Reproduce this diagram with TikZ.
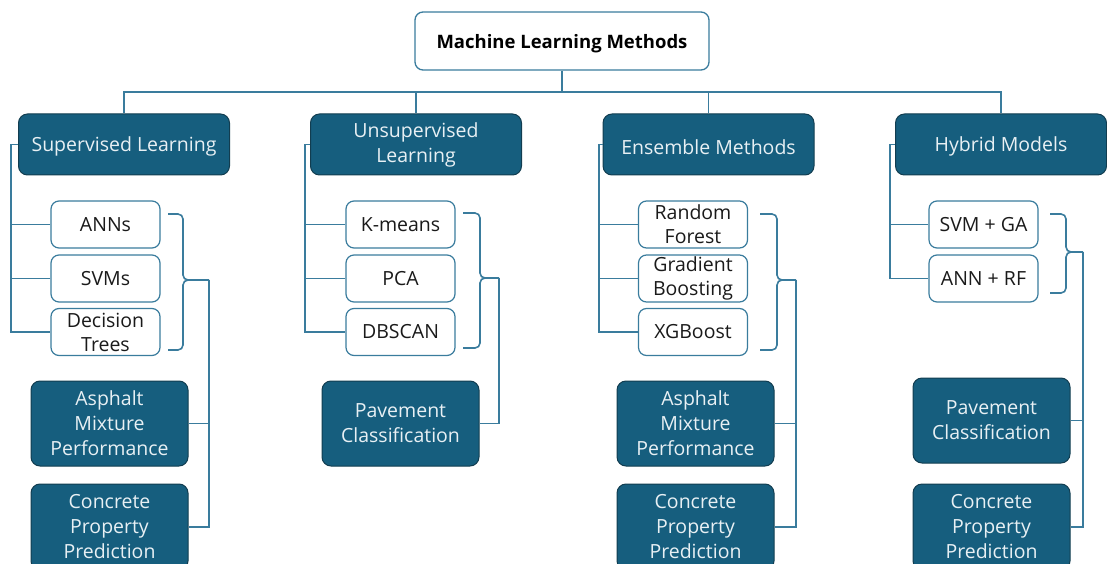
\documentclass[tikz,border=0pt]{standalone}
\usepackage{fontspec}
\setmainfont{Open Sans}
\definecolor{dark}{HTML}{165E7E}
\definecolor{darkb}{HTML}{123D50}
\definecolor{ln}{HTML}{3A7C9D}
\definecolor{lighttext}{HTML}{E8F0F4}
\definecolor{txt}{HTML}{1A1A1A}
\begin{document}
\begin{tikzpicture}[x=1pt,y=-1pt,
  cat/.style={draw=darkb, fill=dark, line width=1pt, rounded corners=9pt, text=lighttext,
    font=\fontsize{19.5}{25}\selectfont, align=center, inner sep=0pt,
    execute at begin node={\rule{0pt}{19.5pt}}},
  catbox/.style={cat, minimum width=211pt, minimum height=61pt},
  appbox/.style={cat, minimum width=157pt, minimum height=85pt},
  leaf/.style={draw=ln, fill=white, line width=1.2pt, rounded corners=8pt, text=txt,
    font=\fontsize{19.5}{24}\selectfont, align=center, inner sep=0pt,
    minimum width=109pt, minimum height=47pt},
  topbox/.style={draw=ln, fill=white, line width=1.3pt, rounded corners=8pt, text=black,
    font=\bfseries\fontsize{18.5}{22}\selectfont, inner sep=0pt,
    minimum width=294pt, minimum height=58pt,
    execute at begin node={\rule{0pt}{18.5pt}}},
  conn/.style={draw=ln, line width=1.6pt},
  brace/.style={conn, rounded corners=5pt}
]
\useasboundingbox (0,0) rectangle (1107,564);
\clip (0,0) rectangle (1107,564);

% top
\node[topbox] (top) at (562,41) {Machine Learning Methods};

% categories
\node[catbox] (sup) at (124,144.5) {Supervised Learning};
\node[catbox] (uns) at (416,144.5) {Unsupervised\\Learning};
\node[catbox] (ens) at (708.5,144.5) {Ensemble Methods};
\node[catbox] (hyb) at (1001,144.5) {Hybrid Models};

% bus
\coordinate (bus) at (562,92);
\draw[conn] (top.south) -- (top.south |- bus);
\draw[conn] (sup.north) |- (bus) -| (hyb.north);
\draw[conn] (uns.north) -- (uns.north |- bus);
\draw[conn] (ens.north) -- (ens.north |- bus);

% supervised leaves
\node[leaf] (ann) at (105.5,224.5) {ANNs};
\node[leaf] (svm) at (105.5,278.5) {SVMs};
\node[leaf] (dt) at (105.5,332) {Decision\\Trees};
\coordinate (supL) at (11,144.5);
\draw[conn] (sup.west) -- (supL) |- (dt.west);
\draw[conn] (ann.west) -- (ann.west -| supL);
\draw[conn] (svm.west) -- (svm.west -| supL);

% unsupervised leaves
\node[leaf] (km) at (400.5,224.5) {K-means};
\node[leaf] (pca) at (400.5,278.5) {PCA};
\node[leaf] (db) at (400.5,332) {DBSCAN};
\coordinate (unsL) at (305,144.5);
\draw[conn] (uns.west) -- (unsL) |- (db.west);
\draw[conn] (km.west) -- (km.west -| unsL);
\draw[conn] (pca.west) -- (pca.west -| unsL);

% ensemble leaves
\node[leaf] (rf) at (693,224.5) {Random\\Forest};
\node[leaf] (gb) at (693,278.5) {Gradient\\Boosting};
\node[leaf] (xgb) at (693,332) {XGBoost};
\coordinate (ensL) at (599,144.5);
\draw[conn] (ens.west) -- (ensL) |- (xgb.west);
\draw[conn] (rf.west) -- (rf.west -| ensL);
\draw[conn] (gb.west) -- (gb.west -| ensL);

% hybrid leaves
\node[leaf] (sga) at (983.5,224.5) {SVM + GA};
\node[leaf] (arf) at (983.5,278.5) {ANN + RF};
\coordinate (hybL) at (890,144.5);
\draw[conn] (hyb.west) -- (hybL) |- (arf.west);
\draw[conn] (sga.west) -- (sga.west -| hybL);

% applications
\node[appbox] (sa) at (109.5,423.5) {Asphalt\\Mixture\\Performance};
\node[appbox, minimum height=86pt] (sc) at (109.5,527) {Concrete\\Property\\Prediction};
\node[appbox] (up) at (400.5,423.5) {Pavement\\Classification};
\node[appbox] (ea) at (695.5,423.5) {Asphalt\\Mixture\\Performance};
\node[appbox, minimum height=86pt] (ec) at (695.5,527) {Concrete\\Property\\Prediction};
\node[appbox] (hp) at (991.5,420.5) {Pavement\\Classification};
\node[appbox, minimum height=86pt] (hc) at (991.5,527) {Concrete\\Property\\Prediction};

% braces and links: supervised
\coordinate (sbT) at (168,214); \coordinate (sbB) at (168,350);
\coordinate (sbS) at (183,280); \coordinate (sbV) at (209,280);
\draw[brace] (sbT) -| (sbS) -- (sbV);
\draw[brace] (sbB) -| (sbS) -- ++(6,0);
\draw[conn] (sbV) |- (sc.east);
\draw[conn] (sa.east) -- (sa.east -| sbV);

% unsupervised
\coordinate (ubT) at (463,213); \coordinate (ubB) at (463,348);
\coordinate (ubS) at (480,278); \coordinate (ubV) at (499,278);
\draw[brace] (ubT) -| (ubS) -- (ubV);
\draw[brace] (ubB) -| (ubS) -- ++(6,0);
\draw[conn] (ubV) |- (up.east);

% ensemble
\coordinate (ebT) at (760,214); \coordinate (ebB) at (760,350);
\coordinate (ebS) at (777,280); \coordinate (ebV) at (796,280);
\draw[brace] (ebT) -| (ebS) -- (ebV);
\draw[brace] (ebB) -| (ebS) -- ++(6,0);
\draw[conn] (ebV) |- (ec.east);
\draw[conn] (ea.east) -- (ea.east -| ebV);

% hybrid
\coordinate (hbT) at (1050,214); \coordinate (hbB) at (1050,293);
\coordinate (hbS) at (1066,252); \coordinate (hbV) at (1083,252);
\draw[brace] (hbT) -| (hbS) -- (hbV);
\draw[brace] (hbB) -| (hbS) -- ++(6,0);
\draw[conn] (hbV) |- (hc.east);
\draw[conn] (hp.east) -- (hp.east -| hbV);
\end{tikzpicture}
\end{document}
